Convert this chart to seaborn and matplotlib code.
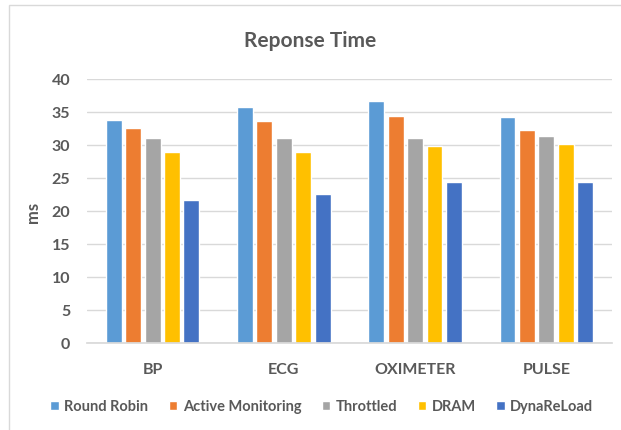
import matplotlib
matplotlib.use("Agg")
import matplotlib.pyplot as plt
from matplotlib.patches import Rectangle
import seaborn as sns
import pandas as pd

# Response time (ms) per sensor workload and load-balancing policy
categories = ["BP", "ECG", "OXIMETER", "PULSE"]
policies = ["Round Robin", "Active Monitoring", "Throttled", "DRAM", "DynaReLoad"]
round_robin = [33.8, 35.8, 36.6, 34.3]
active_monitoring = [32.5, 33.6, 34.4, 32.3]
throttled = [31.1, 31.1, 31.1, 31.4]
dram = [29.0, 29.0, 29.9, 30.2]
dynareload = [21.6, 22.6, 24.4, 24.4]
y_ticks = [0, 5, 10, 15, 20, 25, 30, 35, 40]

colors = ["#5B9BD5", "#ED7D31", "#A5A5A5", "#FFC000", "#4472C4"]
text_color = "#595959"

series = [round_robin, active_monitoring, throttled, dram, dynareload]
rows = []
for name, vals in zip(policies, series):
    for cat, v in zip(categories, vals):
        rows.append({"Sensor": cat, "Policy": name, "ms": v})
df = pd.DataFrame(rows)

sns.set_theme(style="white")
plt.rcParams["font.family"] = ["Lato", "DejaVu Sans"]

fig = plt.figure(figsize=(6.21, 4.31), dpi=100)
ax = fig.add_axes([0.140, 0.202, 0.8455, 0.6125])

sns.barplot(data=df, x="Sensor", y="ms", hue="Policy", order=categories,
            hue_order=policies, palette=colors, width=0.74, gap=0.18,
            saturation=1, ax=ax, legend=True)

ax.set_ylim(0, 40)
ax.set_yticks(y_ticks)
ax.yaxis.grid(True, color="#D9D9D9", linewidth=1)
ax.set_axisbelow(True)
for s in ["top", "right", "left"]:
    ax.spines[s].set_visible(False)
ax.spines["bottom"].set_color("#D9D9D9")
ax.tick_params(axis="both", length=0, colors=text_color, labelsize=11.5)
ax.tick_params(axis="y", pad=12)
ax.tick_params(axis="x", pad=14)
for lbl in ax.get_xticklabels() + ax.get_yticklabels():
    lbl.set_fontweight("bold")
ax.set_xlabel("")
ax.set_ylabel("ms", color=text_color, fontsize=12, fontweight="bold", labelpad=8)

fig.text(0.5, 0.905, "Reponse Time", ha="center", va="center",
         fontsize=15, fontweight="bold", color=text_color)

handles, labels = ax.get_legend_handles_labels()
ax.get_legend().remove()
fig.legend(handles, labels, loc="center", bbox_to_anchor=(0.518, 0.055), ncol=5,
           frameon=False, handlelength=0.6, handleheight=0.6, handletextpad=0.35,
           columnspacing=1.4, prop={"weight": "bold", "size": 10.5},
           labelcolor=text_color)

# thin chart-area frame
fig.patches.append(Rectangle((9 / 621, -0.01), 1.0, 1 - 6 / 431 + 0.01,
                             transform=fig.transFigure, fill=False,
                             edgecolor="#D9D9D9", linewidth=1))

fig.savefig("out.png", dpi=100)
